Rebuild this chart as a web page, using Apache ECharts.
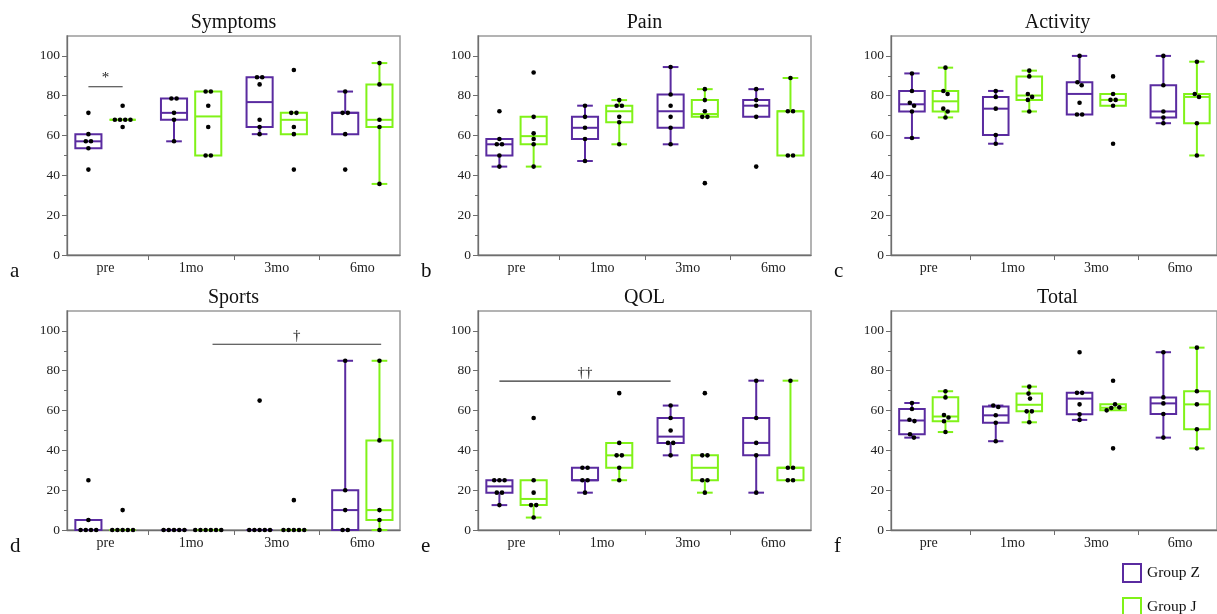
<!DOCTYPE html>
<html><head><meta charset="utf-8">
<script src="https://cdn.jsdelivr.net/npm/echarts@6/dist/echarts.min.js"></script>
<style>html,body{margin:0;padding:0;background:#fff}#c{width:1217px;height:614px}</style>
</head><body><div id="c"></div>
<script>
// ---------- data ----------
const categories = ['pre', '1mo', '3mo', '6mo'];
const panelTitles = ['Symptoms', 'Pain', 'Activity', 'Sports', 'QOL', 'Total'];
const panelLetters = ['a', 'b', 'c', 'd', 'e', 'f'];
const groupNames = ['Group Z', 'Group J'];
const yTicks = [0, 20, 40, 60, 80, 100];
const yMinorTicks = [10, 30, 50, 70, 90];

// box stats per category: [low whisker, Q1, median, Q3, high whisker]
const symptomsBoxZ = [[53.6,53.6,57.1,60.7,60.7],[57.1,67.9,71.4,78.6,78.6],[60.7,64.3,76.8,89.3,89.3],[60.7,60.7,71.4,71.4,82.1]];
const symptomsBoxJ = [[67.9,67.9,67.9,67.9,67.9],[50,50,69.6,82.1,82.1],[60.7,60.7,67.9,71.4,71.4],[35.7,64.3,67.9,85.7,96.4]];
const symptomsPtsZ = [[71.4,60.7,57.1,57.1,53.6,42.9],[78.6,78.6,71.4,67.9,57.1],[89.3,89.3,85.7,67.9,64.3,60.7],[82.1,71.4,71.4,60.7,42.9]];
const symptomsPtsJ = [[75,67.9,67.9,67.9,67.9,64.3],[82.1,82.1,75,64.3,50,50],[92.9,71.4,71.4,64.3,60.7,42.9],[96.4,85.7,67.9,64.3,35.7]];

const painBoxZ = [[44.4,50,55.6,58.3,58.3],[47.2,58.3,63.9,69.4,75],[55.6,63.9,72.2,80.6,94.4],[69.4,69.4,75,77.8,83.3]];
const painBoxJ = [[44.4,55.6,59.7,69.4,69.4],[55.6,66.7,72.2,75,77.8],[69.4,69.4,70.8,77.8,83.3],[50,50,72.2,72.2,88.9]];
const painPtsZ = [[72.2,58.3,55.6,55.6,50,44.4],[75,69.4,63.9,58.3,47.2],[94.4,80.6,75,69.4,63.9,55.6],[83.3,77.8,75,69.4,44.4]];
const painPtsJ = [[91.7,69.4,61.1,58.3,55.6,44.4],[77.8,75,75,69.4,66.7,55.6],[83.3,77.8,72.2,69.4,69.4,36.1],[88.9,72.2,72.2,50,50]];

const activityBoxZ = [[58.8,72.1,75.7,82.4,91.2],[55.9,60.3,73.5,79.4,82.4],[70.6,70.6,80.9,86.8,100],[66.2,69.1,72.1,85.3,100]];
const activityBoxJ = [[69.1,72.1,77.2,82.4,94.1],[72.1,77.9,80.1,89.7,92.6],[75,75,77.9,80.9,80.9],[50,66.2,79.4,80.9,97.1]];
const activityPtsZ = [[91.2,82.4,76.5,75,72.1,58.8],[82.4,79.4,73.5,60.3,55.9],[100,86.8,85.3,76.5,70.6,70.6],[100,85.3,72.1,69.1,66.2]];
const activityPtsJ = [[94.1,82.4,80.9,73.5,72.1,69.1],[92.6,89.7,80.9,79.4,77.9,72.1],[89.7,80.9,77.9,77.9,75,55.9],[97.1,80.9,79.4,66.2,50]];

const sportsBoxZ = [[0,0,0,5,5],[0,0,0,0,0],[0,0,0,0,0],[0,0,10,20,85]];
const sportsBoxJ = [[0,0,0,0,0],[0,0,0,0,0],[0,0,0,0,0],[0,5,10,45,85]];
const sportsPtsZ = [[25,5,0,0,0,0],[0,0,0,0,0],[65,0,0,0,0,0],[85,20,10,0,0]];
const sportsPtsJ = [[10,0,0,0,0,0],[0,0,0,0,0,0],[15,0,0,0,0,0],[85,45,10,5,0]];

const qolBoxZ = [[12.5,18.75,21.9,25,25],[18.75,25,25,31.25,31.25],[37.5,43.75,46.9,56.25,62.5],[18.75,37.5,43.75,56.25,75]];
const qolBoxJ = [[6.25,12.5,15.6,25,25],[25,31.25,37.5,43.75,43.75],[18.75,25,31.25,37.5,37.5],[25,25,31.25,31.25,75]];
const qolPtsZ = [[25,25,25,18.75,18.75,12.5],[31.25,31.25,25,25,18.75],[62.5,56.25,50,43.75,43.75,37.5],[75,56.25,43.75,37.5,18.75]];
const qolPtsJ = [[56.25,25,18.75,12.5,12.5,6.25],[68.75,43.75,37.5,37.5,31.25,25],[68.75,37.5,37.5,25,25,18.75],[75,31.25,31.25,25,25]];

const totalBoxZ = [[46.4,48.1,55.0,60.8,63.8],[44.6,53.9,57.6,62.0,62.5],[55.3,58.1,66.0,68.9,68.9],[46.4,58.3,63.6,66.6,89.3]];
const totalBoxJ = [[49.2,54.6,57.0,66.7,69.7],[54.1,59.6,62.9,68.5,72.0],[60.1,60.1,61.4,63.1,63.1],[41.0,50.6,63.1,69.7,91.6]];
const totalPtsZ = [[63.8,60.8,55.4,54.7,48.1,46.4],[62.5,61.8,57.6,53.9,44.6],[89.3,68.9,68.9,63.1,58.1,55.3],[89.3,66.6,63.6,58.3,46.4]];
const totalPtsJ = [[69.7,66.6,57.8,56.5,54.6,49.2],[72.0,68.5,66.0,59.6,59.6,54.1],[75.0,63.1,61.6,61.3,60.1,41.0],[91.6,69.7,63.1,50.6,41.0]];

// significance bars: panel index, from x, to x (category units), y value, label
const sigPanels = [0, 3, 4];
const sigFrom = [-0.2, 1.25, -0.2];
const sigTo = [0.2, 3.22, 1.8];
const sigY = [84.5, 93.3, 74.8];
const sigLabels = ['*', '\u2020', '\u2020\u2020'];

// ---------- build ----------
const boxesZ = [symptomsBoxZ, painBoxZ, activityBoxZ, sportsBoxZ, qolBoxZ, totalBoxZ];
const boxesJ = [symptomsBoxJ, painBoxJ, activityBoxJ, sportsBoxJ, qolBoxJ, totalBoxJ];
const ptsZ = [symptomsPtsZ, painPtsZ, activityPtsZ, sportsPtsZ, qolPtsZ, totalPtsZ];
const ptsJ = [symptomsPtsJ, painPtsJ, activityPtsJ, sportsPtsJ, qolPtsJ, totalPtsJ];

const COLORS = ['#5a2ba0', '#80f218'];
const FONT = '"Liberation Serif", "Times New Roman", serif';
const colLeft = [67, 478, 891];
const rowTop = [36, 311];
const GW = 333, GH = 219;
const X_MIN = -0.45, X_MAX = 3.44;
const GROUP_OFF = [-0.2, 0.2];
const BOX_W = 0.305;
const DOT_D = 5.2, DOT_R = 2.3;

function swarm(ys, d) {
  const n = ys.length;
  const order = ys.map((y, k) => k).sort((a, b) => ys[a] - ys[b]);
  const xs = new Array(n).fill(0);
  const placed = [];
  for (const k of order) {
    const y = ys[k];
    const cands = [0];
    for (const p of placed) {
      const dy = Math.abs(p.y - y);
      if (dy < d) { const dx = Math.sqrt(d * d - dy * dy); cands.push(p.x + dx, p.x - dx); }
    }
    cands.sort((a, b) => (Math.abs(a) - Math.abs(b)) || (b - a));
    let best = 0;
    for (const c of cands) {
      if (placed.every(p => (p.x - c) * (p.x - c) + (p.y - y) * (p.y - y) >= d * d - 0.01)) { best = c; break; }
    }
    xs[k] = best; placed.push({ x: best, y: y });
  }
  // center each vertical cluster
  let start = 0;
  for (let s = 1; s <= n; s++) {
    if (s === n || ys[order[s]] - ys[order[s - 1]] >= d) {
      const ids = order.slice(start, s);
      const m = ids.reduce((a, k) => a + xs[k], 0) / ids.length;
      ids.forEach(k => { xs[k] -= m; });
      start = s;
    }
  }
  return xs;
}

function boxRenderer(points, off) {
  return function (params, api) {
    const i = api.value(0);
    const low = api.value(1), q1 = api.value(2), med = api.value(3), q3 = api.value(4), high = api.value(5);
    const cx = api.coord([i + off, 0])[0];
    const w = api.size([BOX_W, 0])[0];
    const cw = w * 0.6;
    const Y = v => api.coord([0, v])[1];
    const color = api.visual('color');
    const st = { stroke: color, lineWidth: 2, fill: null };
    const ch = [];
    const ln = (x1, y1, x2, y2) => ({ type: 'line', shape: { x1, y1, x2, y2 }, style: st });
    if (high > q3) { ch.push(ln(cx, Y(q3), cx, Y(high))); ch.push(ln(cx - cw / 2, Y(high), cx + cw / 2, Y(high))); }
    if (low < q1) { ch.push(ln(cx, Y(q1), cx, Y(low))); ch.push(ln(cx - cw / 2, Y(low), cx + cw / 2, Y(low))); }
    ch.push({ type: 'rect', shape: { x: cx - w / 2, y: Y(q3), width: w, height: Math.max(Y(q1) - Y(q3), 0) }, style: { stroke: color, lineWidth: 2, fill: 'rgba(0,0,0,0)' } });
    ch.push(ln(cx - w / 2, Y(med), cx + w / 2, Y(med)));
    const vals = points[i] || [];
    const ys = vals.map(v => Y(v));
    const xs = swarm(ys, DOT_D);
    vals.forEach((v, k) => {
      ch.push({ type: 'circle', shape: { cx: cx + xs[k], cy: ys[k], r: DOT_R }, style: { fill: '#000' }, z2: 10 });
    });
    return { type: 'group', children: ch };
  };
}

const grid = [], xAxis = [], yAxis = [], series = [], title = [];
for (let p = 0; p < 6; p++) {
  const left = colLeft[p % 3], top = rowTop[Math.floor(p / 3)];
  grid.push({ left: left, top: top, width: GW, height: GH, show: true, borderColor: '#9a9a9a', borderWidth: 1.5, backgroundColor: 'transparent' });
  xAxis.push({
    type: 'value', gridIndex: p, min: X_MIN, max: X_MAX, position: 'bottom',
    splitLine: { show: false },
    axisLine: { show: true, onZero: false, lineStyle: { color: '#6e6e6e', width: 1.3 } },
    axisTick: { show: true, customValues: [0.5, 1.5, 2.5], length: 5, lineStyle: { color: '#6e6e6e' } },
    axisLabel: { customValues: [0, 1, 2, 3], formatter: v => categories[Math.round(v)], margin: 6, color: '#222', fontFamily: FONT, fontSize: 14 }
  });
  yAxis.push({
    type: 'value', gridIndex: p, min: 0, max: 110, position: 'left',
    splitLine: { show: false },
    axisLine: { show: true, onZero: false, lineStyle: { color: '#6e6e6e', width: 1.3 } },
    axisTick: { show: true, customValues: yTicks, length: 5, lineStyle: { color: '#6e6e6e' } },
    axisLabel: { customValues: yTicks, margin: 7, color: '#222', fontFamily: FONT, fontSize: 13.5 }
  });
  yAxis.push({
    type: 'value', gridIndex: p, min: 0, max: 110, position: 'left', offset: 0,
    splitLine: { show: false },
    axisLine: { show: false, onZero: false },
    axisTick: { show: true, customValues: yMinorTicks, length: 3, lineStyle: { color: '#6e6e6e' } },
    axisLabel: { show: false }
  });
  title.push({ text: panelTitles[p], left: left + GW / 2, top: top - 23, textAlign: 'center', textStyle: { fontFamily: FONT, fontWeight: 'normal', fontSize: 20, color: '#111' }, padding: 0 });
  title.push({ text: panelLetters[p], left: left - 57, top: top + GH + 6, textStyle: { fontFamily: FONT, fontWeight: 'normal', fontSize: 21, color: '#111' }, padding: 0 });

  [boxesZ, boxesJ].forEach((boxes, g) => {
    const pts = g === 0 ? ptsZ[p] : ptsJ[p];
    series.push({
      type: 'custom', name: groupNames[g], xAxisIndex: p, yAxisIndex: 2 * p, clip: false,
      itemStyle: { color: COLORS[g] },
      renderItem: boxRenderer(pts, GROUP_OFF[g]),
      data: boxes[p].map((b, i) => [i].concat(b)),
      encode: { x: 0, y: [1, 2, 3, 4, 5] },
      silent: true, animation: false
    });
  });
}

sigPanels.forEach((p, s) => {
  series.push({
    type: 'custom', xAxisIndex: p, yAxisIndex: 2 * p, clip: false, silent: true, animation: false,
    data: [[sigFrom[s], sigTo[s], sigY[s]]],
    encode: { x: [0, 1], y: 2 },
    renderItem: function (params, api) {
      const a = api.coord([api.value(0), api.value(2)]);
      const b = api.coord([api.value(1), api.value(2)]);
      return { type: 'group', children: [
        { type: 'line', shape: { x1: a[0], y1: a[1], x2: b[0], y2: b[1] }, style: { stroke: '#333', lineWidth: 1.2 } },
        { type: 'text', style: { text: sigLabels[s], x: (a[0] + b[0]) / 2, y: a[1] - 1, align: 'center', verticalAlign: 'bottom', font: '15px ' + FONT, fill: '#222' } }
      ] };
    }
  });
});

const chart = echarts.init(document.getElementById('c'), null, { renderer: 'canvas' });
chart.setOption({
  animation: false,
  backgroundColor: '#fff',
  title: title,
  grid: grid, xAxis: xAxis, yAxis: yAxis, series: series,
  legend: {
    orient: 'vertical', left: 1122, top: 563, width: 95, height: 80, padding: 0,
    itemWidth: 20, itemHeight: 20, itemGap: 14,
    icon: 'path://M0,0H20V20H0Z M2,2V18H18V2Z',
    data: groupNames,
    selectedMode: false,
    textStyle: { fontFamily: FONT, fontSize: 15.5, color: '#111' }
  }
});
</script></body></html>
